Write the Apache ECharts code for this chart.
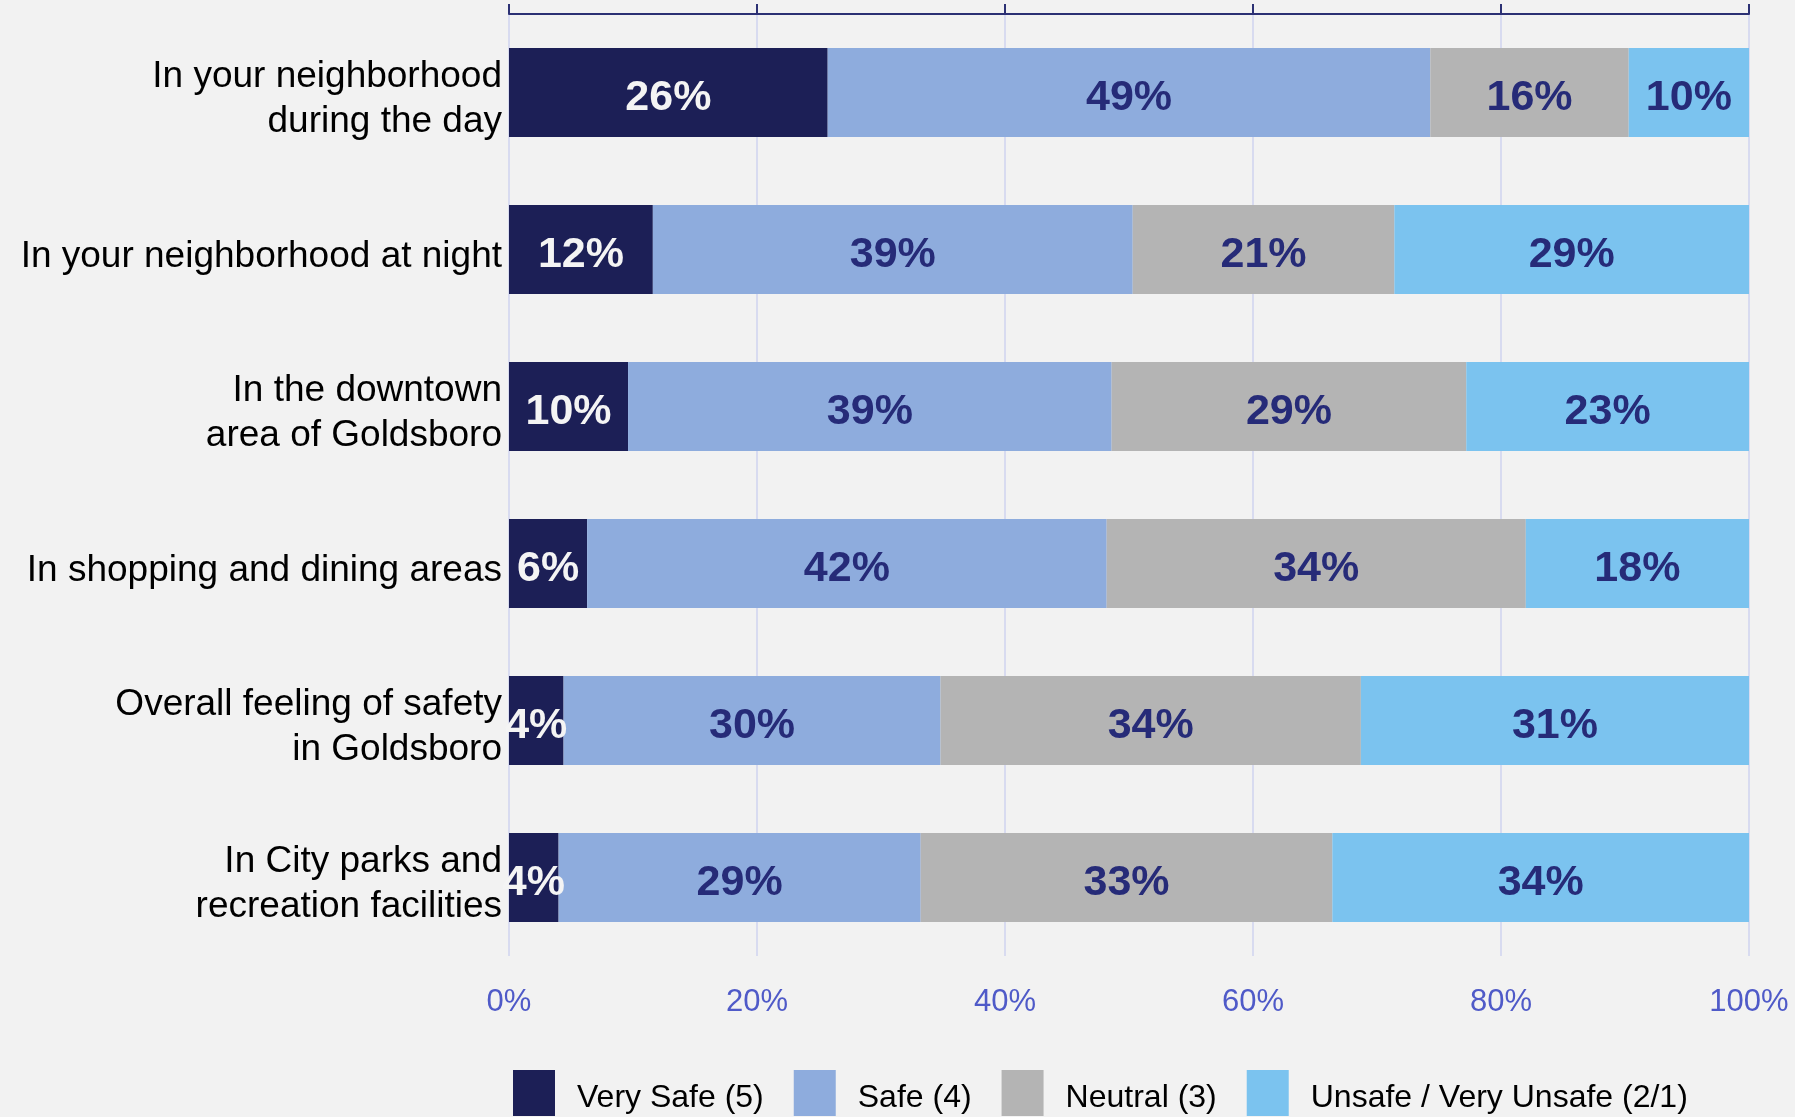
<!DOCTYPE html>
<html>
<head>
<meta charset="utf-8">
<title>Feelings of Safety in Goldsboro</title>
<script src="https://cdn.jsdelivr.net/npm/echarts@6/dist/echarts.min.js"></script>
<style>
  html, body { margin: 0; padding: 0; background: #f2f2f2; }
  #chart { width: 1795px; height: 1117px; }
</style>
</head>
<body>
<div id="chart"></div>
<script>
// Survey locations, top to bottom
var categories = [
  'In your neighborhood\nduring the day',
  'In your neighborhood at night',
  'In the downtown\narea of Goldsboro',
  'In shopping and dining areas',
  'Overall feeling of safety\nin Goldsboro',
  'In City parks and\nrecreation facilities'
];

// Percent of respondents per rating
var verySafe = [25.7, 11.6, 9.6, 6.3, 4.4, 4.0];
var safe     = [48.6, 38.7, 39.0, 41.9, 30.4, 29.2];
var neutral  = [16.0, 21.1, 28.6, 33.8, 33.9, 33.2];
var unsafe   = [9.7, 28.6, 22.8, 18.0, 31.3, 33.6];

var seriesNames = ['Very Safe (5)', 'Safe (4)', 'Neutral (3)', 'Unsafe / Very Unsafe (2/1)'];
var seriesData = [verySafe, safe, neutral, unsafe];
var seriesColors = ['#1c1f56', '#8eacdd', '#b4b4b4', '#7bc3ef'];
var labelColors = ['#f4f4f4', '#262b78', '#262b78', '#262b78'];

var FONT = '"Liberation Sans", Arial, sans-serif';

var chart = echarts.init(document.getElementById('chart'), null, { renderer: 'canvas' });

var series = seriesNames.map(function (name, i) {
  return {
    name: name,
    type: 'bar',
    stack: 'total',
    barWidth: 89,
    xAxisIndex: 0,
    data: seriesData[i],
    itemStyle: { color: seriesColors[i] },
    label: {
      show: true,
      position: 'inside',
      offset: [0, 6],
      color: labelColors[i],
      fontFamily: FONT,
      fontWeight: 'bold',
      fontSize: 43,
      formatter: function (p) { return Math.round(p.value) + '%'; }
    },
    emphasis: { disabled: true }
  };
});

chart.setOption({
  backgroundColor: '#f2f2f2',
  animation: false,
  grid: { left: 509, right: 46, top: 14, bottom: 161, containLabel: false },
  legend: {
    left: 513,
    top: 1070,
    padding: 0,
    itemWidth: 42,
    itemHeight: 46,
    itemGap: 30,
    icon: 'rect',
    data: seriesNames,
    // a thin spacer line drops the name slightly below the swatch centre
    formatter: function (name) { return '{g| }\n{t|' + name + '}'; },
    textStyle: {
      fontFamily: FONT,
      fontSize: 32,
      color: '#000000',
      padding: [0, 0, 0, 17],
      rich: {
        g: { fontSize: 1, lineHeight: 11 },
        t: { fontFamily: FONT, fontSize: 32, lineHeight: 36, color: '#000000' }
      }
    }
  },
  xAxis: [
    {
      type: 'value',
      position: 'bottom',
      min: 0,
      max: 100,
      interval: 20,
      axisLine: { show: false },
      axisTick: { show: false },
      splitLine: { show: true, lineStyle: { color: '#d8dbf0', width: 2 } },
      axisLabel: {
        margin: 31,
        fontFamily: FONT,
        fontSize: 31,
        color: '#4f5ac8',
        formatter: '{value}%'
      }
    },
    {
      type: 'value',
      position: 'top',
      min: 0,
      max: 100,
      interval: 20,
      axisLine: { show: true, lineStyle: { color: '#2c3174', width: 2 } },
      axisTick: { show: true, inside: false, length: 10, lineStyle: { color: '#2c3174', width: 2 } },
      splitLine: { show: false },
      axisLabel: { show: false }
    }
  ],
  yAxis: {
    type: 'category',
    inverse: true,
    data: categories,
    axisLine: { show: false },
    axisTick: { show: false },
    axisLabel: {
      margin: 7,
      align: 'right',
      // spacer line on top nudges each label block a little lower
      formatter: function (v) {
        return '{g| }\n' + v.split('\n').map(function (s) { return '{t|' + s + '}'; }).join('\n');
      },
      rich: {
        g: { fontSize: 1, lineHeight: 14, align: 'right' },
        t: { fontFamily: FONT, fontSize: 37, lineHeight: 45, color: '#000000', align: 'right' }
      }
    }
  },
  series: series
});
</script>
</body>
</html>
